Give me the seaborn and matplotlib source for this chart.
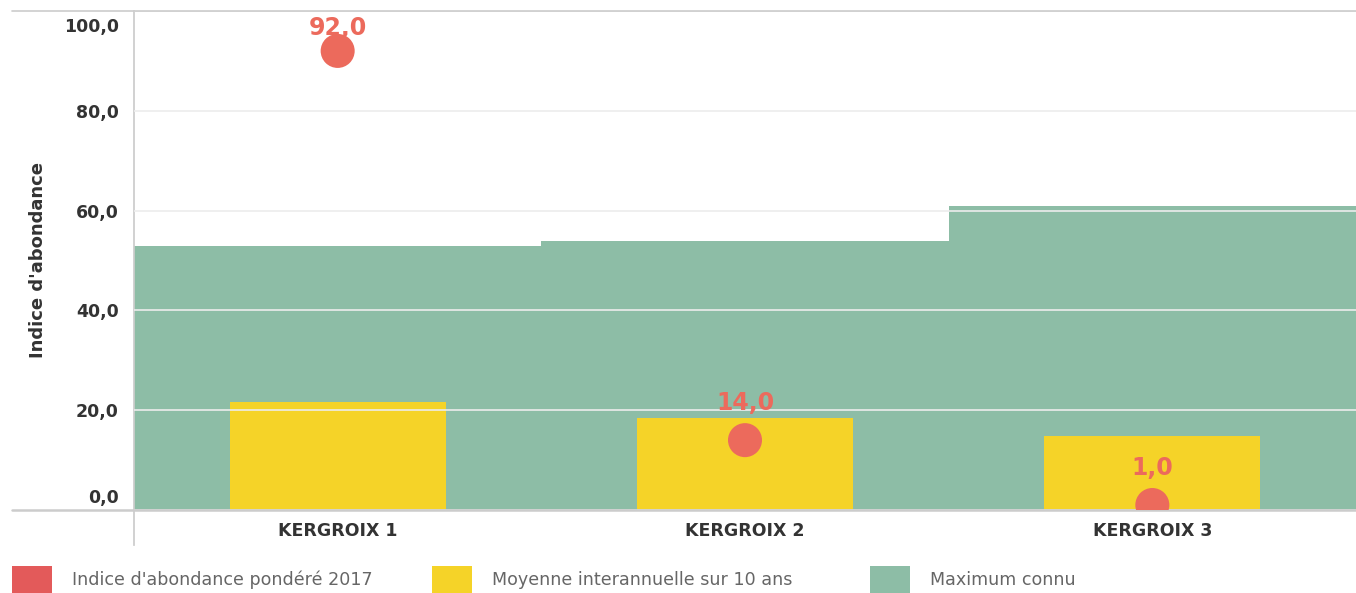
import matplotlib
matplotlib.use("Agg")
import matplotlib.pyplot as plt
import matplotlib.transforms as mtransforms
import seaborn as sns
import pandas as pd
from matplotlib.patches import Patch

stations = ["KERGROIX 1", "KERGROIX 2", "KERGROIX 3"]
indice_2017 = [92.0, 14.0, 1.0]
moyenne_10ans = [21.6, 18.4, 14.8]
maximum_connu = [53.0, 54.0, 61.0]

legend_labels = ["Indice d'abondance pondéré 2017",
                 "Moyenne interannuelle sur 10 ans",
                 "Maximum connu"]

RED = "#ec6a5c"
RED_LEG = "#e35a5a"
YELLOW = "#f5d328"
GREEN = "#8dbda6"

df = pd.DataFrame({"station": stations, "indice": indice_2017,
                   "moyenne": moyenne_10ans, "maximum": maximum_connu})

sns.set_theme(style="white")
plt.rcParams["font.family"] = ["DejaVu Sans"]

fig = plt.figure(figsize=(13.56, 5.93), dpi=100)
ax = fig.add_axes([134 / 1356, 1 - 510 / 593, 1 - 134 / 1356, (510 - 11) / 593])

sns.barplot(data=df, x="station", y="maximum", color=GREEN, width=1.0,
            saturation=1, linewidth=0, edgecolor="none", ax=ax, zorder=1)
sns.barplot(data=df, x="station", y="moyenne", color=YELLOW, width=0.53,
            saturation=1, linewidth=0, edgecolor="none", ax=ax, zorder=1)
sns.scatterplot(data=df, x="station", y="indice", color=RED, s=600,
                edgecolor="none", ax=ax, zorder=4, legend=False)
ax.collections[-1].set_clip_on(True)

# labels sit above the dot, pushed down when they would leave the plot
px_per_unit = (510 - 11) / 100
for i, v in enumerate(indice_2017):
    off_px = min(37, (100 - v) * px_per_unit - 17)
    ax.annotate(f"{v:.1f}".replace(".", ","), (i, v), xytext=(0, off_px * 0.72),
                textcoords="offset points", ha="center", va="center",
                color=RED, fontsize=17, fontweight="bold", zorder=5)

ax.set_xlim(-0.5, 2.5)
ax.set_ylim(0, 100)
yt = [0, 20, 40, 60, 80, 100]
ax.set_yticks(yt)
ax.set_yticklabels([f"{t:.1f}".replace(".", ",") for t in yt])
ax.set_axisbelow(False)
ax.yaxis.grid(True, color="#ececec", linewidth=1.2, zorder=2)
ax.xaxis.grid(False)

ax.tick_params(axis="y", length=0, pad=11, labelsize=12.5, labelcolor="#333333")
ax.tick_params(axis="x", length=0, pad=9, labelsize=12.5, labelcolor="#333333")
for lab in ax.get_yticklabels() + ax.get_xticklabels():
    lab.set_fontweight("bold")
ylabs = ax.get_yticklabels()
ylabs[0].set_transform(ylabs[0].get_transform() +
                       mtransforms.ScaledTranslation(0, 14 / 100, fig.dpi_scale_trans))
ylabs[-1].set_transform(ylabs[-1].get_transform() +
                        mtransforms.ScaledTranslation(0, -14 / 100, fig.dpi_scale_trans))

ax.set_xticks([0.5, 1.5], minor=True)
ax.tick_params(axis="x", which="minor", length=8, color="#e6e6e6", width=1)

ax.set_xlabel("")
ax.set_ylabel("Indice d'abondance", fontsize=13, fontweight="bold",
              color="#333333", labelpad=12)

for side in ["top", "right", "bottom"]:
    ax.spines[side].set_visible(False)
ax.spines["left"].set_color("#cccccc")
ax.spines["left"].set_bounds(-7, 100)

ax.axhline(100, xmin=-0.1, xmax=1, color="#cccccc", lw=1.2, clip_on=False, zorder=3)
ax.axhline(0, xmin=-0.1, xmax=1, color="#cccccc", lw=1.8, clip_on=False, zorder=3)

legend_colors = [RED_LEG, YELLOW, GREEN]
legend_x = [12 / 1356, 432 / 1356, 870 / 1356]
for lab, col, lx in zip(legend_labels, legend_colors, legend_x):
    fig.legend(handles=[Patch(facecolor=col, edgecolor="none", label=lab)],
               loc="lower left", bbox_to_anchor=(lx, 0), frameon=False,
               borderpad=0, borderaxespad=0,
               handlelength=2.3, handleheight=2.0, handletextpad=1.1,
               labelcolor="#666666", prop={"size": 12.6})

fig.savefig("out.png", dpi=100)
